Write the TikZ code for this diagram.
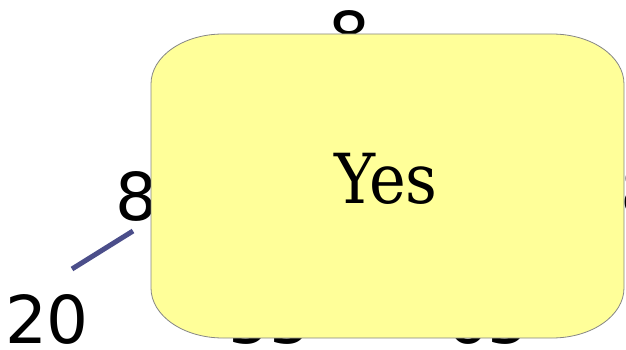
\documentclass[tikz,border=0pt]{standalone}
\usepackage{fontspec}
\setsansfont{DejaVu Sans}
\newfontfamily\yesfont{DejaVu Serif Condensed}
\usetikzlibrary{calc}
\definecolor{boxyellow}{HTML}{FFFF99}
\definecolor{boxgrey}{HTML}{858585}
\definecolor{edgeblue}{HTML}{4B4E8A}

\begin{document}
\begin{tikzpicture}[x=1pt,y=-1pt,line join=round,
  weight/.style={font=\sffamily\fontsize{66}{66}\selectfont,inner sep=0pt,anchor=base},
  edgeline/.style={line width=5pt,draw=edgeblue},
  yesbox/.style={fill=boxyellow,draw=boxgrey,line width=.8pt}]
  \useasboundingbox (0,0) rectangle (626,350);
  \clip (0,0) rectangle (626,350);
  % weights behind the box
  \node[weight] (wtop) at (349,60) {8};
  \node[weight] (wleft) at (136,220) {8};
  \node[weight] (wlow) at (47,343) {20};
  \node[weight] (wbot1) at (270,343) {55};
  \node[weight] (wbot2) at (488,343) {65};
  \node[weight,anchor=base west] (wright) at (620,215) {8};
  \coordinate (e20) at (72,269);
  \coordinate (e8) at (133,231);
  \draw[edgeline] (e20) -- (e8);
  % the answer box
  \coordinate (bnw) at (151,34);
  \coordinate (bse) at (624,338);
  \draw[yesbox] ($(bnw)+(72,0)$) -- ($(bse|-bnw)+(-72,0)$)
    arc[start angle=90,end angle=0,x radius=72pt,y radius=50pt] -- ($(bse)+(0,-50)$)
    arc[start angle=0,end angle=-90,x radius=72pt,y radius=50pt] -- ($(bnw|-bse)+(72,0)$)
    arc[start angle=-90,end angle=-180,x radius=72pt,y radius=50pt] -- ($(bnw)+(0,50)$)
    arc[start angle=180,end angle=90,x radius=72pt,y radius=50pt] -- cycle;
  \node[inner sep=0pt,anchor=base,font=\yesfont\fontsize{69}{69}\selectfont] (yes) at (386,203) {Yes};
\end{tikzpicture}
\end{document}
